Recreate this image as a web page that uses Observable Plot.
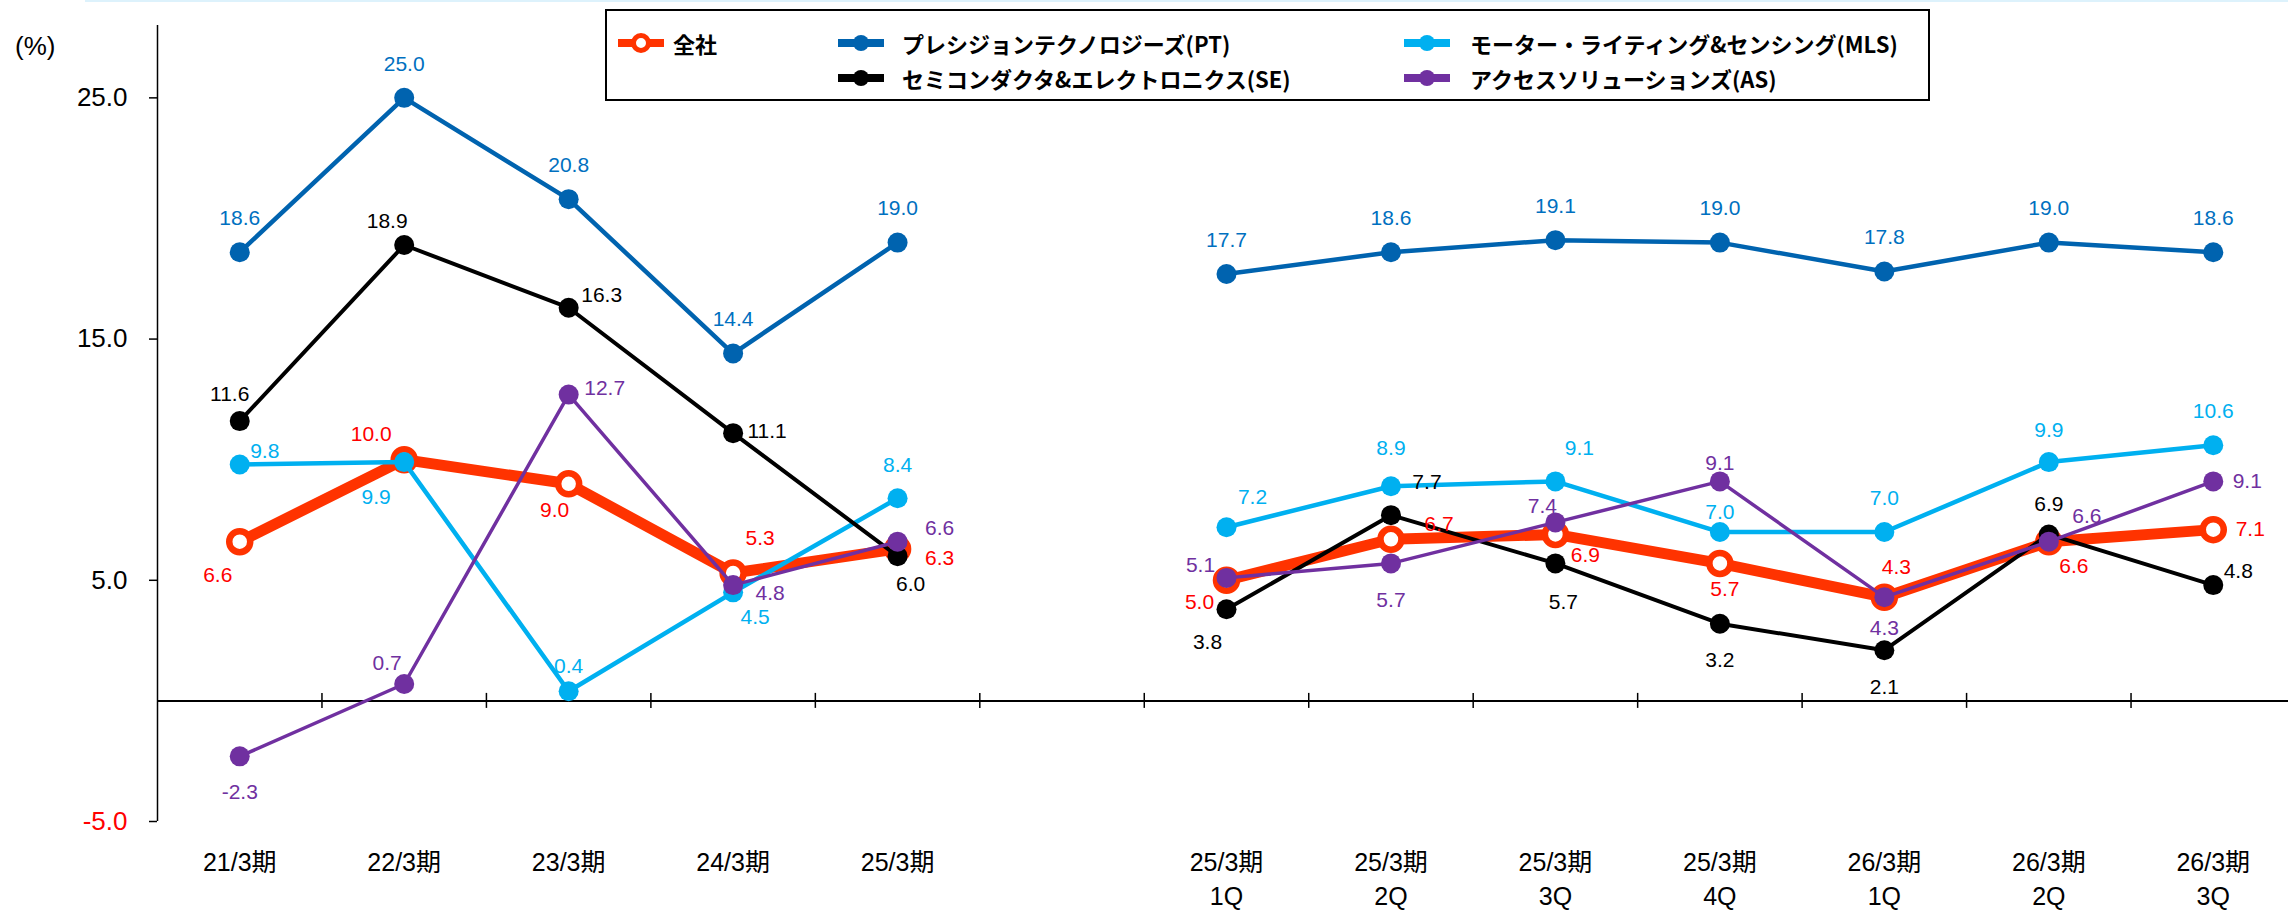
<!DOCTYPE html>
<html><head><meta charset="utf-8">
<script src="https://cdn.jsdelivr.net/npm/d3@7"></script>
<script src="https://cdn.jsdelivr.net/npm/@observablehq/plot@0.6"></script>
<style>
body{margin:0;background:#fff;}
#wrap{position:relative;width:2288px;height:911px;overflow:hidden;font-family:"Liberation Sans",Arial,"Noto Sans CJK JP",sans-serif;}
#topline{position:absolute;left:85px;top:0;width:2203px;height:2px;background:#ddf2fc;}
#unit{position:absolute;left:15px;top:31px;font-size:26px;line-height:30px;}
#legend{position:absolute;left:605px;top:9px;width:1321px;height:88px;border:2px solid #000;background:#fff;}
.sw{position:absolute;width:46px;height:24px;}
.lt{position:absolute;font-family:"Noto Sans CJK JP",sans-serif;font-weight:bold;font-size:22px;line-height:30px;white-space:nowrap;color:#000;}
#chart{position:absolute;left:0;top:0;}
</style>
</head><body>
<div id="wrap">
<div id="chart"></div>
<div id="topline"></div>
<div id="unit">(%)</div>
<div id="legend"></div>
</div>
<script>
// ---- data ----
const categories = ["21/3期","22/3期","23/3期","24/3期","25/3期","","25/3期\n1Q","25/3期\n2Q","25/3期\n3Q","25/3期\n4Q","26/3期\n1Q","26/3期\n2Q","26/3期\n3Q"];
const total = [6.6,10.0,9.0,5.3,6.3,null,5.0,6.7,6.9,5.7,4.3,6.6,7.1];
const pt    = [18.6,25.0,20.8,14.4,19.0,null,17.7,18.6,19.1,19.0,17.8,19.0,18.6];
const se    = [11.6,18.9,16.3,11.1,6.0,null,3.8,7.7,5.7,3.2,2.1,6.9,4.8];
const mls   = [9.8,9.9,0.4,4.5,8.4,null,7.2,8.9,9.1,7.0,7.0,9.9,10.6];
const as    = [-2.3,0.7,12.7,4.8,6.6,null,5.1,5.7,7.4,9.1,4.3,6.6,9.1];
const yTicks = [-5,5,15,25];
const seriesNames = ["全社","プレシジョンテクノロジーズ(PT)","モーター・ライティング&センシング(MLS)","セミコンダクタ&エレクトロニクス(SE)","アクセスソリューションズ(AS)"];

// ---- label offsets (pixels, styling) ----
const offTotal = [[-22,34],[-33,-25],[-14,26],[27,-35],[42,9],null,[-27,22],[48,-15],[30,21],[5,26],[12,-30],[25,25],[37,0]];
const offPT    = [[0,-34],[0,-34],[0,-34],[0,-34],[0,-34],null,[0,-34],[0,-34],[0,-34],[0,-34],[0,-34],[0,-34],[0,-34]];
const offSE    = [[-10,-27],[-17,-24],[33,-12],[34,-2],[13,28],null,[-19,33],[36,-33],[8,39],[0,37],[0,37],[0,-30],[25,-14]];
const offMLS   = [[25,-13],[-28,35],[0,-25],[22,25],[0,-33],null,[26,-30],[0,-38],[24,-33],[0,-20],[0,-34],[0,-32],[0,-34]];
const offAS    = [[0,36],[-17,-21],[36,-6],[37,8],[42,-13],null,[-26,-13],[0,37],[-13,-16],[0,-18],[0,31],[38,-25],[34,0]];

const C = {total:"#FF3300", totalLabel:"#FF0000", pt:"#0063AF", ptLabel:"#0070C0", mls:"#00B0F0", se:"#000000", as:"#7030A0"};

const idx = categories.map((_, i) => i);
const bounds = idx.slice(1).map(i => i - 0.5);

function seriesMarks(vals, color, w) {
  return [
    Plot.line(idx, {x: i => i, y: i => vals[i], stroke: color, strokeWidth: w}),
    Plot.dot(idx.filter(i => vals[i] != null), {x: i => i, y: i => vals[i], r: 10, fill: color, stroke: "none"})
  ];
}
function labelMarks(vals, offs, color) {
  return idx.filter(i => vals[i] != null).map(i =>
    Plot.text([i], {x: d => d, y: d => vals[d], text: d => vals[d].toFixed(1),
      dx: offs[i][0], dy: offs[i][1], fill: color, fontSize: 21, textAnchor: "middle"}));
}

const chart = Plot.plot({
  width: 2288, height: 911,
  marginLeft: 157, marginRight: 0, marginTop: 25, marginBottom: 90,
  x: {domain: [-0.5, 12.5], range: [157, 2295]},
  y: {domain: [-5, 28], range: [821, 25]},
  style: {fontFamily: '"Liberation Sans", Arial, "Noto Sans CJK JP", sans-serif', background: "transparent", color: "#000"},
  marks: [
    Plot.ruleX([-0.5], {stroke: "#000", strokeWidth: 1.5}),
    Plot.ruleY([0], {stroke: "#000", strokeWidth: 2}),
    Plot.ruleX(bounds, {y1: 0, y2: 0, insetTop: -7.5, insetBottom: -7.5, stroke: "#000", strokeWidth: 1.5}),
    Plot.axisY(yTicks.filter(v => v >= 0), {tickSize: 8, tickPadding: 22, fontSize: 26, tickFormat: d => d.toFixed(1), label: null, stroke: "#000", fill: "#000", strokeWidth: 1.5}),
    Plot.axisY(yTicks.filter(v => v < 0), {tickSize: 8, tickPadding: 22, fontSize: 26, tickFormat: d => d.toFixed(1), label: null, stroke: "#000", fill: "#FF0000", strokeWidth: 1.5}),
    Plot.axisX(idx, {anchor: "bottom", tickSize: 0, tickPadding: 25, fontSize: 25, lineHeight: 1.36, tickFormat: i => categories[i], label: null, fill: "#000"}),
    // 全社 (bottom layer)
    Plot.line(idx, {x: i => i, y: i => total[i], stroke: C.total, strokeWidth: 11, strokeLinejoin: "round"}),
    Plot.dot(idx.filter(i => total[i] != null), {x: i => i, y: i => total[i], r: 10.5, fill: "#fff", stroke: C.total, strokeWidth: 6.5}),
    ...seriesMarks(pt, C.pt, 4.5),
    ...seriesMarks(mls, C.mls, 4.5),
    ...seriesMarks(se, C.se, 4),
    ...seriesMarks(as, C.as, 3.5),
    ...labelMarks(total, offTotal, C.totalLabel),
    ...labelMarks(pt, offPT, C.ptLabel),
    ...labelMarks(se, offSE, "#000"),
    ...labelMarks(mls, offMLS, C.mls),
    ...labelMarks(as, offAS, C.as)
  ]
});
document.getElementById("chart").appendChild(chart);

// ---- legend ----
const legend = document.getElementById("legend");
const legendItems = [
  {name: seriesNames[0], color: C.total, open: true, sw: [11, 20], tx: [66, 17]},
  {name: seriesNames[1], color: C.pt, sw: [231, 20], tx: [295, 17]},
  {name: seriesNames[2], color: C.mls, sw: [797, 20], tx: [863, 17]},
  {name: seriesNames[3], color: C.se, sw: [231, 55], tx: [295, 52]},
  {name: seriesNames[4], color: C.as, sw: [797, 55], tx: [863, 52]}
];
for (const it of legendItems) {
  const s = d3.create("svg").attr("class", "sw").attr("width", 46).attr("height", 24)
    .style("left", it.sw[0] + "px").style("top", it.sw[1] + "px");
  s.append("line").attr("x1", 0).attr("x2", 46).attr("y1", 12).attr("y2", 12)
    .attr("stroke", it.color).attr("stroke-width", 8);
  if (it.open) s.append("circle").attr("cx", 23).attr("cy", 12).attr("r", 7.5).attr("fill", "#fff").attr("stroke", it.color).attr("stroke-width", 5);
  else s.append("circle").attr("cx", 23).attr("cy", 12).attr("r", 8).attr("fill", it.color);
  legend.appendChild(s.node());
  const t = document.createElement("div");
  t.className = "lt"; t.textContent = it.name;
  t.style.left = it.tx[0] + "px"; t.style.top = it.tx[1] + "px";
  legend.appendChild(t);
}
</script>
</body></html>
